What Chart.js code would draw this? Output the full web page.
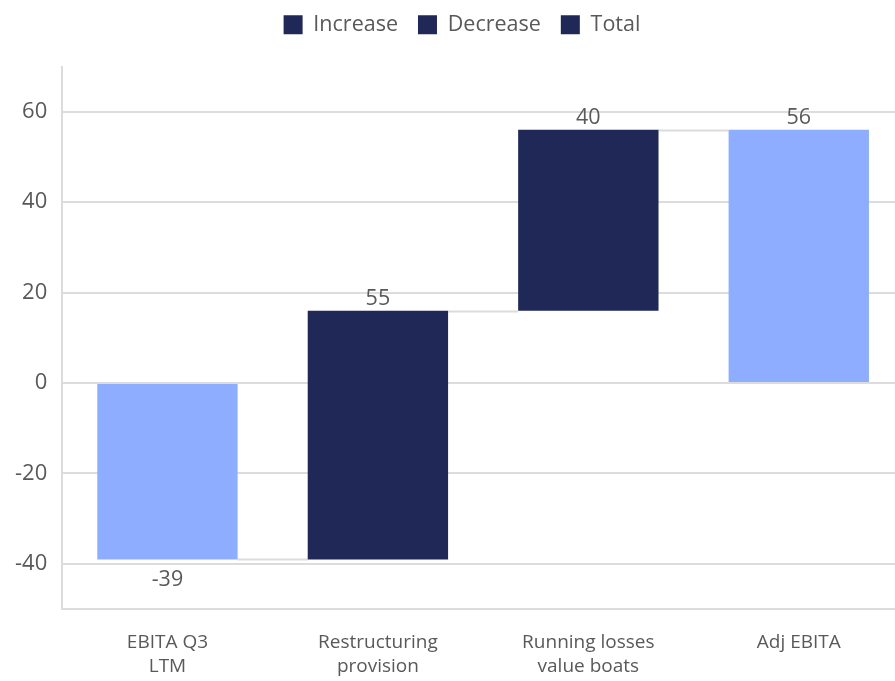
<!DOCTYPE html>
<html>
<head>
<meta charset="utf-8">
<script src="https://cdn.jsdelivr.net/npm/chart.js@4/dist/chart.umd.min.js"></script>
<style>
  html, body { margin: 0; padding: 0; background: #ffffff; overflow: hidden; }
  #wrap { position: relative; width: 904px; height: 681px; }
</style>
</head>
<body>
<div id="wrap"><canvas id="c"></canvas></div>
<script>
// ---- data ----
const categories = [["EBITA Q3", "LTM"], ["Restructuring", "provision"], ["Running losses", "value boats"], ["Adj EBITA"]];
const values = [-39, 55, 40, 56];
const kinds = ["total", "increase", "increase", "total"];
const legendNames = ["Increase", "Decrease", "Total"];
const yTickValues = [-40, -20, 0, 20, 40, 60];

// ---- styles ----
const NAVY = "#1f2856";
const LIGHT = "#8eadfe";
const TEXT = "#595959";
const GRID = "#dcdcdc";
const FONT = "'Open Sans', 'Noto Sans', sans-serif";

// build floating ranges from the values
const ranges = [];
let running = 0;
values.forEach((v, i) => {
  if (kinds[i] === "total") { ranges.push([0, v]); running = v; }
  else if (kinds[i] === "increase") { ranges.push([running, running + v]); running += v; }
  else { ranges.push([running, running - Math.abs(v)]); running -= Math.abs(v); }
});
const seriesFor = (k) => ranges.map((r, i) => kinds[i] === k ? r : null);

const legendSpacer = {
  id: "legendSpacer",
  beforeInit(chart) {
    const origFit = chart.legend.fit;
    chart.legend.fit = function () {
      origFit.bind(chart.legend)();
      this.height += 21;
    };
  },
  afterLayout(chart) {
    chart.legend.left += 10;
    chart.legend.right += 10;
  }
};

const connectorPlugin = {
  id: "connectors",
  beforeDatasetsDraw(chart) {
    const ctx = chart.ctx;
    const y = chart.scales.y;
    const metas = chart.getSortedVisibleDatasetMetas();
    const barAt = (i) => {
      for (const m of metas) { const el = m.data[i]; if (el && chart.data.datasets[m.index].data[i] != null) return el; }
      return null;
    };
    ctx.save();
    ctx.strokeStyle = GRID;
    ctx.lineWidth = 2;
    for (let i = 0; i < ranges.length - 1; i++) {
      const a = barAt(i), b = barAt(i + 1);
      if (!a || !b) continue;
      const level = ranges[i][1];
      const py = Math.round(y.getPixelForValue(level)) + 0.5;
      ctx.beginPath();
      ctx.moveTo(a.x + a.width / 2, py);
      ctx.lineTo(b.x - b.width / 2, py);
      ctx.stroke();
    }
    ctx.restore();
  }
};

const labelPlugin = {
  id: "valueLabels",
  afterDatasetsDraw(chart) {
    const ctx = chart.ctx;
    const y = chart.scales.y;
    const metas = chart.getSortedVisibleDatasetMetas();
    ctx.save();
    ctx.font = "21.5px " + FONT;
    ctx.fillStyle = TEXT;
    ctx.textAlign = "center";
    ctx.textBaseline = "middle";
    for (let i = 0; i < ranges.length; i++) {
      let el = null;
      for (const m of metas) { if (chart.data.datasets[m.index].data[i] != null) { el = m.data[i]; break; } }
      if (!el) continue;
      const top = Math.min(y.getPixelForValue(ranges[i][0]), y.getPixelForValue(ranges[i][1]));
      const bot = Math.max(y.getPixelForValue(ranges[i][0]), y.getPixelForValue(ranges[i][1]));
      const below = kinds[i] === "total" && values[i] < 0;
      ctx.fillText(String(values[i]), el.x, below ? bot + 20 : top - 12);
    }
    ctx.restore();
  }
};

new Chart(document.getElementById("c"), {
  type: "bar",
  data: {
    labels: categories,
    datasets: [
      { label: legendNames[0], data: seriesFor("increase"), backgroundColor: NAVY },
      { label: legendNames[1], data: seriesFor("decrease"), backgroundColor: NAVY },
      { label: legendNames[2], data: seriesFor("total"), backgroundColor: LIGHT }
    ]
  },
  options: {
    responsive: true,
    maintainAspectRatio: false,
    animation: false,
    layout: { padding: { top: -6, right: 0, left: 0, bottom: -20 } },
    datasets: { bar: { grouped: false, categoryPercentage: 1, barPercentage: 0.667 } },
    plugins: {
      tooltip: { enabled: false },
      legend: {
        position: "top",
        labels: {
          boxWidth: 19, boxHeight: 19, padding: 20,
          color: TEXT,
          font: { family: FONT, size: 21.5 },
          generateLabels: (chart) => legendNames.map((n, i) => ({
            text: n, fillStyle: NAVY, strokeStyle: NAVY, lineWidth: 0, hidden: false, datasetIndex: i, fontColor: TEXT
          }))
        }
      }
    },
    scales: {
      x: {
        grid: { display: false, drawTicks: false },
        border: { display: true, color: GRID, width: 2 },
        ticks: { color: TEXT, font: { family: FONT, size: 19, lineHeight: 1.26 }, padding: 22, maxRotation: 0 }
      },
      y: {
        min: -50, max: 70,
        afterBuildTicks: (scale) => { scale.ticks = yTickValues.map(v => ({ value: v })); },
        grid: { color: GRID, lineWidth: 2, drawTicks: false },
        border: { display: true, color: GRID, width: 2 },
        ticks: { color: TEXT, font: { family: FONT, size: 22 }, padding: 15 }
      }
    }
  },
  plugins: [legendSpacer, connectorPlugin, labelPlugin]
});
</script>
</body>
</html>
